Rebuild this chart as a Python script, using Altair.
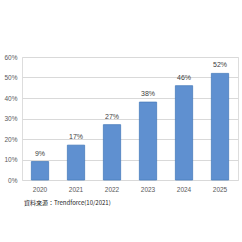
import altair as alt
import pandas as pd

years = ["2020", "2021", "2022", "2023", "2024", "2025"]
values = [9, 17, 27, 38, 46, 52]
labels = ["9%", "17%", "27%", "38%", "46%", "52%"]
y_ticks = [0, 10, 20, 30, 40, 50, 60]
source_text = "資料來源：Trendforce(10/2021)"

df = pd.DataFrame({"year": years, "value": values, "label": labels})

x = alt.X("year:N", title=None, sort=years,
          scale=alt.Scale(paddingInner=0.52, paddingOuter=0.26),
          axis=alt.Axis(labelAngle=0, domain=False, ticks=False, labelFontSize=6.5,
                        labelColor="#595959", labelPadding=6, labelFont="Liberation Sans"))
y = alt.Y("value:Q", title=None, scale=alt.Scale(domain=[0, 60]),
          axis=alt.Axis(values=y_ticks, labelExpr="datum.value + '%'", domain=False, ticks=False,
                        gridColor="#d9d9d9", gridWidth=1, labelFontSize=6.5, labelColor="#595959",
                        labelPadding=5, labelFont="Liberation Sans"))

bars = alt.Chart(df).mark_bar(color="#5f90d0", stroke="#4a7dbd", strokeWidth=0.8).encode(x=x, y=y)
text = alt.Chart(df).mark_text(dy=-8, fontSize=7, color="#404040", font="Liberation Sans").encode(
    x=x, y=y, text="label:N")
src = alt.Chart(pd.DataFrame({"t": [source_text]})).mark_text(
    align="left", baseline="middle", fontSize=6, color="#222222", font="Noto Sans CJK TC"
).encode(x=alt.value(2), y=alt.value(146), text="t:N")

chart = alt.layer(bars, text, src).properties(
    width=216, height=123,
    autosize=alt.AutoSizeParams(type="none"),
    padding={"left": 22, "top": 57, "right": 4, "bottom": 62},
).configure_view(stroke=None).configure(background="white")

chart.save("out.html", embed_options={"renderer": "svg", "actions": False})
